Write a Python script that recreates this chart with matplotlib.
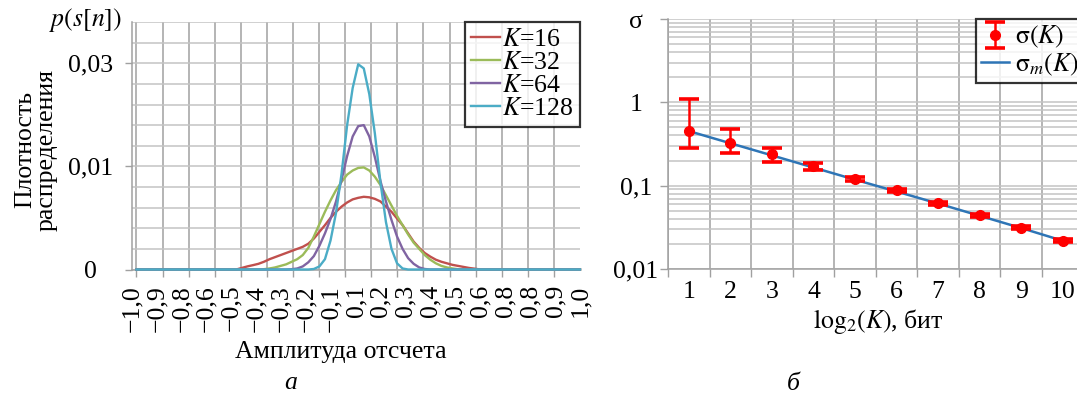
import numpy as np
import matplotlib
matplotlib.use("Agg")
import matplotlib.pyplot as plt

plt.rcParams['font.family'] = ['Liberation Serif', 'DejaVu Serif']
plt.rcParams['mathtext.fontset'] = 'stix'

# ---------------- data: left panel (density, units of 1e-3) ----------------
amplitude = [-1.0, -0.55, -0.525, -0.5, -0.475, -0.45, -0.425, -0.4, -0.375, -0.35,
             -0.325, -0.3, -0.275, -0.25, -0.225, -0.2, -0.175, -0.15, -0.125, -0.1,
             -0.075, -0.05, -0.025, 0.0, 0.025, 0.05, 0.075, 0.1, 0.125, 0.15,
             0.175, 0.2, 0.225, 0.25, 0.275, 0.3, 0.325, 0.35, 0.375, 0.4,
             0.425, 0.45, 0.475, 0.5, 0.525, 0.55, 1.0]
p_k16 = [0, 0, 0.15, 0.3, 0.42, 0.55, 0.75, 1.0, 1.2, 1.4,
         1.6, 1.8, 2.0, 2.2, 2.5, 3.0, 3.65, 4.3, 5.0, 5.6,
         6.1, 6.5, 6.8, 6.95, 7.05, 7.0, 6.85, 6.6, 6.1, 5.6,
         4.95, 4.3, 3.5, 2.7, 2.1, 1.6, 1.25, 0.95, 0.75, 0.6,
         0.45, 0.35, 0.25, 0.15, 0.08, 0, 0]
p_k32 = [0, 0, 0, 0, 0, 0, 0.03, 0.1, 0.2, 0.35,
         0.5, 0.75, 1.0, 1.4, 2.1, 3.2, 4.4, 5.6, 6.7, 7.7,
         8.5, 9.2, 9.6, 9.85, 9.9, 9.6, 9.0, 8.2, 7.2, 6.2,
         5.2, 4.3, 3.4, 2.6, 2.0, 1.4, 0.95, 0.6, 0.35, 0.2,
         0.1, 0.03, 0, 0, 0, 0, 0]
p_k64 = [0, 0, 0, 0, 0, 0, 0, 0, 0, 0,
         0, 0.03, 0.1, 0.3, 0.7, 1.3, 2.3, 3.5, 4.9, 6.6,
         8.7, 11.0, 12.9, 13.9, 14.0, 12.9, 10.9, 8.6, 6.6, 4.8,
         3.2, 2.0, 1.1, 0.55, 0.2, 0.05, 0, 0, 0, 0,
         0, 0, 0, 0, 0, 0, 0]
p_k128 = [0, 0, 0, 0, 0, 0, 0, 0, 0, 0,
          0, 0, 0, 0, 0, 0.05, 0.3, 1.0, 2.8, 5.5,
          9.3, 14.0, 17.6, 19.9, 19.5, 17.0, 13.2, 8.5, 4.6, 2.0,
          0.6, 0.1, 0, 0, 0, 0, 0, 0, 0, 0,
          0, 0, 0, 0, 0, 0, 0]
series_labels = [r'$K$=16', r'$K$=32', r'$K$=64', r'$K$=128']
amp_tick_labels = ['−1,0', '−0,9', '−0,8', '−0,6', '−0,5', '−0,4', '−0,3', '−0,2', '−0,1',
                   '0,1', '0,2', '0,3', '0,4', '0,5', '0,6', '0,8', '0,8', '0,9', '1,0']
density_tick_values = [0.0, 0.01, 0.02]
density_tick_labels = ['0', '0,01', '0,03']

# ---------------- data: right panel ----------------
bits = [1, 2, 3, 4, 5, 6, 7, 8, 9, 10]
sigma = [0.452, 0.322, 0.238, 0.172, 0.120, 0.0885, 0.0613, 0.0444, 0.0312, 0.0218]
sigma_hi = [1.096, 0.478, 0.285, 0.187, 0.127, 0.092, 0.064, 0.0462, 0.0325, 0.0227]
sigma_lo = [0.281, 0.248, 0.194, 0.155, 0.113, 0.0845, 0.0588, 0.0426, 0.0299, 0.0209]
sigma_m = [0.452, 0.323, 0.231, 0.165, 0.118, 0.085, 0.061, 0.0435, 0.031, 0.0218]
sigma_tick_values = [0.01, 0.1, 1, 10]
sigma_tick_labels = ['0,01', '0,1', '1', 'σ']

# ---------------- figure ----------------
W, H = 1077, 396
fig = plt.figure(figsize=(W / 100, H / 100), dpi=100)
FS = 18.5
GRID_V = '#a0a0a0'
GRID_H = '#c4c4c4'

# ===== left panel =====
ax1 = fig.add_axes([132 / W, 1 - 269.5 / H, 448 / W, 247.5 / H])
ax1.set_xlim(-1, 1)
ax1.set_ylim(0, 0.024)
colors = ['#C0504D', '#9BBB59', '#8064A2', '#4BACC6']
for vals, lab, c in zip([p_k16, p_k32, p_k64, p_k128], series_labels, colors):
    ax1.plot(amplitude, np.array(vals) * 1e-3, color=c, lw=1.7, label=lab,
             solid_joinstyle='round', zorder=3, clip_on=False)

ax1.set_xticks(np.linspace(-1, 1, 18), minor=True)
ax1.set_xticks(np.linspace(-1.02, 1.0, len(amp_tick_labels)))
ax1.set_xticklabels(amp_tick_labels, rotation=90, va='top', ha='center', fontsize=FS)
ax1.set_yticks(np.arange(0, 0.0241, 0.002), minor=True)
ax1.set_yticks(density_tick_values)
ax1.set_yticklabels(density_tick_labels, fontsize=FS, ha='center')
ax1.tick_params(axis='x', which='major', length=0, pad=11)
ax1.tick_params(axis='x', which='minor', length=5, width=1, color=GRID_V, direction='out')
ax1.tick_params(axis='y', which='major', length=5, width=1, color=GRID_V, pad=25)
ax1.tick_params(axis='y', which='minor', length=0)
ax1.grid(axis='x', which='minor', color=GRID_V, lw=1.1)
ax1.grid(axis='y', which='both', color=GRID_H, lw=1.1)
ax1.grid(axis='x', which='major', visible=False)
ax1.set_axisbelow(True)
for s in ['top', 'right']:
    ax1.spines[s].set_visible(False)
for s in ['left', 'bottom']:
    ax1.spines[s].set_color(GRID_V)
    ax1.spines[s].set_linewidth(1.1)

leg1 = ax1.legend(loc='upper right', bbox_to_anchor=(1.0, 1.0), borderaxespad=0,
                  fontsize=FS, frameon=True, fancybox=False, edgecolor='black',
                  handlelength=1.1, handletextpad=0.1, labelspacing=0.0,
                  borderpad=0.25)
leg1.get_frame().set_linewidth(1.6)

fig.text(85 / W, 1 - 20 / H, r'$p(s[n])$', ha='center', va='center', fontsize=FS)
fig.text(36 / W, 1 - 150 / H, 'Плотность\nраспределения', rotation=90,
         ha='center', va='center', multialignment='center', linespacing=0.95, fontsize=FS)
fig.text(341 / W, 1 - 352 / H, 'Амплитуда отсчета', ha='center', va='center', fontsize=FS)
fig.text(291 / W, 1 - 383 / H, 'а', ha='center', va='center', fontsize=FS, style='italic')

# ===== right panel =====
ax2 = fig.add_axes([668 / W, 1 - 269 / H, 415.6 / W, 250 / H])
ax2.set_yscale('log')
ax2.set_xlim(0.5, 10.5)
ax2.set_ylim(0.01, 10)
sig = np.array(sigma)
yerr = [sig - np.array(sigma_lo), np.array(sigma_hi) - sig]
ax2.plot(bits, sigma_m, color='#2E75B6', lw=1.8, zorder=3, label=r'$\mathrm{\sigma}_m(K)$')
ax2.errorbar(bits, sigma, yerr=yerr, fmt='o', color='#FF0000', ms=7, elinewidth=1.8,
             capsize=7, capthick=2.6, zorder=4, label=r'$\mathrm{\sigma}(K)$')

ax2.set_xticks(np.arange(0.5, 10.6, 1.0), minor=True)
ax2.set_xticks(bits)
ax2.set_xticklabels([str(b) for b in bits], fontsize=FS)
ax2.set_yticks(sigma_tick_values)
ax2.set_yticklabels(sigma_tick_labels, fontsize=FS, ha='center')
ax2.yaxis.set_minor_locator(matplotlib.ticker.LogLocator(base=10, subs=np.arange(2, 10)))
ax2.yaxis.set_minor_formatter(matplotlib.ticker.NullFormatter())
ax2.tick_params(axis='x', which='major', length=0, pad=9)
ax2.tick_params(axis='x', which='minor', length=6, width=1, color=GRID_V)
ax2.tick_params(axis='y', which='major', length=6, width=1, color=GRID_V, pad=17)
ax2.tick_params(axis='y', which='minor', length=0)
ax2.grid(axis='x', which='minor', color=GRID_V, lw=1.1)
ax2.grid(axis='x', which='major', visible=False)
ax2.grid(axis='y', which='both', color=GRID_H, lw=1.1)
ax2.set_axisbelow(True)
for s in ['top', 'right']:
    ax2.spines[s].set_visible(False)
for s in ['left', 'bottom']:
    ax2.spines[s].set_color(GRID_V)
    ax2.spines[s].set_linewidth(1.1)

h, l = ax2.get_legend_handles_labels()
leg2 = ax2.legend([h[1], h[0]], [l[1], l[0]], loc='upper right', bbox_to_anchor=(1.0, 1.0),
                  borderaxespad=0, fontsize=FS, frameon=True, fancybox=False,
                  edgecolor='black', handlelength=1.1, handletextpad=0.2,
                  labelspacing=0.05, borderpad=0.2)
leg2.get_frame().set_linewidth(1.6)

fig.text(878 / W, 1 - 322 / H, r'$\mathrm{log}_2(K)$, бит', ha='center', va='center', fontsize=FS)
fig.text(793 / W, 1 - 384 / H, 'б', ha='center', va='center', fontsize=FS, style='italic')

fig.savefig('out.png', dpi=100)
